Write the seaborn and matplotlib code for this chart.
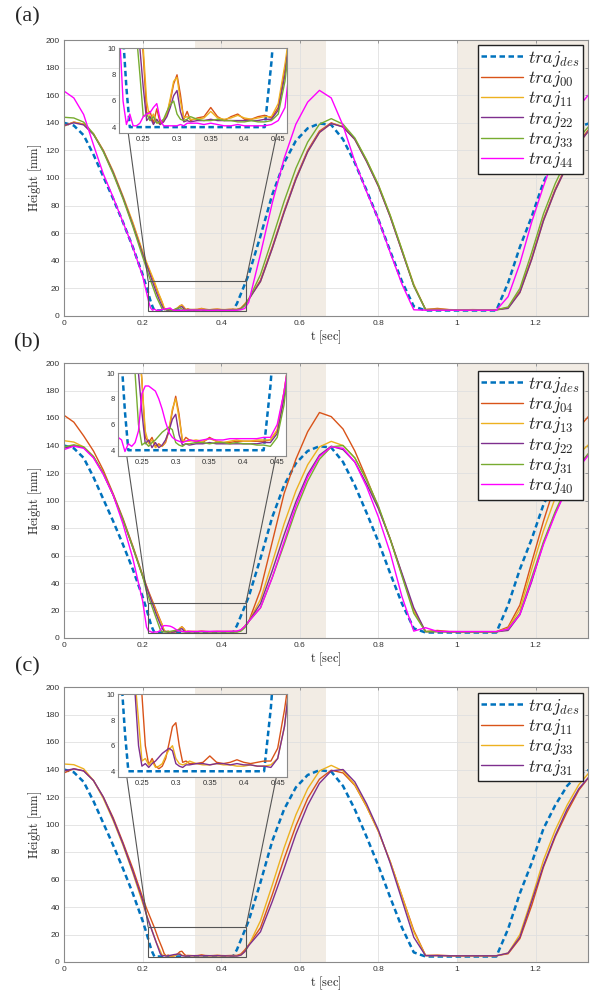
import matplotlib
matplotlib.use("Agg")
import matplotlib.pyplot as plt
import seaborn as sns
from matplotlib.patches import Rectangle, ConnectionPatch

# time grid [s] (coarse outside the zoom window, fine inside it)
t = ([0, 0.025, 0.05, 0.075, 0.1, 0.125, 0.15, 0.175, 0.2]
     + [0.21, 0.215, 0.22, 0.225, 0.23, 0.235, 0.24, 0.245, 0.25, 0.255, 0.26, 0.265,
        0.27, 0.275, 0.28, 0.285, 0.29, 0.295, 0.3, 0.305, 0.31, 0.315, 0.32]
     + [0.33, 0.34, 0.35, 0.36, 0.37, 0.38, 0.39, 0.4, 0.41, 0.42, 0.43, 0.44, 0.45, 0.46, 0.47]
     + [0.5, 0.53, 0.56, 0.59, 0.62, 0.65, 0.68, 0.71, 0.74, 0.77, 0.8, 0.83, 0.86, 0.89,
        0.92, 0.95, 0.98, 1.01, 1.04, 1.07, 1.1, 1.13, 1.16, 1.19, 1.22, 1.25, 1.28, 1.31, 1.34])

# heights [mm]
traj_des = ([140, 138, 131, 117, 101, 85, 68, 50, 30]
            + [21, 16, 11, 7, 4, 4, 4, 4, 4, 4, 4, 4, 4, 4, 4, 4, 4, 4, 4, 4, 4, 4, 4]
            + [4, 4, 4, 4, 4, 4, 4, 4, 4, 4, 4, 9, 16, 23, 30]
            + [58, 88, 111, 127, 136, 139.5, 138.5, 128, 111, 91, 70, 47, 25, 7,
               4, 4, 4, 4, 4, 4, 4, 24, 50, 72, 97, 114, 128, 137, 140])

traj00 = ([138, 140.5, 139, 132, 120, 104, 86, 67, 46]
          + [38, 34.5, 31, 27.5, 24, 20, 16, 13, 9.5, 5, 5.2, 4.3, 5.4, 4.3, 4.5,
             5.0, 6.0, 7.3, 8.0, 6.5, 4.6, 5.2, 4.5]
          + [4.7, 4.8, 5.5, 4.8, 4.5, 4.8, 5.0, 4.6, 4.6, 4.8, 4.9, 4.7, 5.5, 8.5, 12]
          + [26, 50, 76, 100, 120, 134, 140, 137, 128, 112, 94, 72, 47, 22,
             4.6, 5.5, 4.6, 4.5, 4.6, 4.5, 4.5, 6, 18, 42, 70, 92, 110, 126, 137])

traj11 = ([137.5, 140.5, 139, 132, 120, 105, 87, 68, 47]
          + [39, 35.5, 32, 28.5, 25, 21, 17, 13.5, 10, 6, 4.5, 5.0, 4.4, 4.2, 4.4,
             5.0, 6.2, 7.5, 7.8, 6.0, 4.7, 4.8, 4.6]
          + [4.6, 4.7, 5.2, 4.7, 4.6, 4.7, 4.9, 4.7, 4.6, 4.7, 4.8, 4.8, 5.8, 8.8, 12.5]
          + [25, 49, 75, 99, 119, 133, 139.5, 137.5, 128.5, 113, 95, 73, 48, 23,
             4.8, 5, 4.6, 4.5, 4.6, 4.5, 4.6, 6, 17, 41, 69, 91, 109, 125, 136])

traj22 = ([138, 140, 138.5, 131.5, 119.5, 104, 86, 66, 45]
          + [37, 33, 29, 25, 21, 17, 13.5, 10, 7, 4.5, 4.8, 4.2, 4.6, 4.2, 4.4,
             4.8, 5.5, 6.4, 6.8, 5.2, 4.4, 4.5, 4.4]
          + [4.5, 4.5, 4.6, 4.5, 4.5, 4.5, 4.5, 4.5, 4.5, 4.5, 4.6, 4.6, 5.3, 8.0, 12]
          + [25, 49, 75, 99, 119, 133, 139.5, 137, 128, 112, 94, 72, 47, 22,
             4.6, 4.7, 4.5, 4.5, 4.5, 4.5, 4.5, 5.5, 17, 41, 69, 91, 109, 125, 136])

traj33 = ([144, 143.5, 140.5, 132, 119, 103, 85, 65, 43]
          + [34.5, 30, 26, 22, 18, 14, 11, 8, 4.8, 5.0, 4.5, 4.8, 4.3, 4.4, 4.6,
             5.2, 5.7, 6.0, 5.0, 4.6, 4.5, 4.6, 4.8]
          + [4.6, 4.5, 4.5, 4.6, 4.5, 4.5, 4.4, 4.4, 4.5, 4.4, 4.4, 4.5, 5.0, 7.5, 12]
          + [30, 56, 83, 107, 126, 139, 143, 139, 129, 113, 95, 73, 48, 22,
             4.6, 4.6, 4.5, 4.5, 4.5, 4.5, 4.5, 6.5, 20, 46, 74, 96, 114, 129, 139])

traj44 = ([163, 158, 146, 124, 103, 86, 68, 50, 29]
          + [17, 11, 6, 4.2, 5.0, 4.1, 4.1, 4.3, 4.8, 5.0, 5.1, 5.5, 5.8, 4.6, 4.1,
             4.1, 4.1, 4.1, 4.1, 4.2, 4.1, 4.3, 4.3]
          + [4.3, 4.2, 4.3, 4.2, 4.1, 4.1, 4.2, 4.1, 4.1, 4.1, 4.1, 4.2, 4.5, 5.5, 10]
          + [45, 82, 114, 139, 155, 163.5, 158, 138, 112, 90, 70, 46, 23, 4.5,
             4.2, 4.2, 4.2, 4.2, 4.2, 4.2, 4.2, 14, 38, 68, 94, 118, 138, 152, 162])

traj04 = ([162, 157, 147, 136, 122, 105, 87, 67, 46]
          + [38, 34, 30.5, 27, 23.5, 20, 16.5, 13, 9.5, 5, 4.6, 5.0, 4.3, 4.5, 4.3,
             4.6, 5.5, 7.0, 8.2, 6.8, 4.6, 5.0, 4.8]
          + [4.7, 4.6, 5.0, 4.7, 4.6, 4.6, 4.7, 4.7, 4.7, 4.7, 4.7, 4.8, 5.5, 8.5, 12]
          + [35, 70, 105, 130, 150, 164, 161, 152, 136, 116, 95, 72, 46, 20,
             4.7, 5.5, 4.7, 4.6, 4.6, 4.6, 4.6, 8, 24, 55, 85, 112, 135, 153, 163])

traj13 = ([143.5, 142.5, 139, 132, 120, 104, 86, 66, 45]
          + [37, 33, 29.5, 26, 22.5, 19, 15.5, 12.5, 9.5, 5.5, 4.5, 4.8, 4.2, 4.4, 4.3,
             4.7, 5.6, 7.2, 8.0, 6.5, 4.8, 4.7, 4.7]
          + [4.8, 4.7, 4.9, 4.7, 4.6, 4.7, 4.8, 4.7, 4.7, 4.8, 4.8, 4.8, 5.6, 8.5, 12]
          + [28, 55, 83, 107, 126, 139, 143, 140, 131, 115, 95, 72, 46, 20,
             4.7, 4.8, 4.6, 4.6, 4.6, 4.6, 4.6, 7, 21, 50, 78, 102, 121, 134, 142])

traj31 = ([139, 140.5, 139, 132, 120, 104, 86, 66, 45]
          + [34, 30, 26, 22, 18, 14, 10, 6, 4.4, 4.6, 4.3, 4.6, 4.8, 5.1, 5.4,
             5.6, 5.8, 5.6, 4.6, 4.4, 4.3, 4.5, 4.5]
          + [4.6, 4.6, 4.5, 4.6, 4.6, 4.5, 4.6, 4.5, 4.5, 4.4, 4.4, 4.3, 5.0, 7.5, 12]
          + [22, 44, 68, 93, 114, 130, 139, 140, 131, 115, 96, 72, 45, 18,
             4.6, 4.6, 4.5, 4.5, 4.5, 4.5, 4.5, 6.5, 18, 44, 70, 92, 111, 126, 136])

traj40 = ([137, 139.5, 138, 131, 119, 104, 83, 58, 27]
          + [8, 5.0, 4.8, 3.9, 4.5, 4.3, 4.6, 5.5, 8.4, 9.0, 9.0, 8.8, 8.6, 8.0, 7.2,
             6.2, 5.4, 5.0, 4.8, 4.7, 4.6, 4.7, 4.8]
          + [4.7, 4.8, 4.9, 4.8, 4.8, 4.9, 4.9, 4.9, 4.9, 4.9, 5.0, 5.0, 6.0, 8.5, 12]
          + [22, 44, 70, 96, 117, 132, 139, 138, 128, 110, 88, 62, 30, 5,
             7.5, 4.8, 4.7, 4.7, 4.7, 4.7, 4.7, 6.5, 17, 42, 68, 90, 109, 124, 135])

panel_titles = ["(a)", "(b)", "(c)"]
panel_curves = [
    [("00", traj00), ("11", traj11), ("22", traj22), ("33", traj33), ("44", traj44)],
    [("04", traj04), ("13", traj13), ("22", traj22), ("31", traj31), ("40", traj40)],
    [("11", traj11), ("33", traj33), ("31", traj31)],
]

xticks = [0, 0.2, 0.4, 0.6, 0.8, 1.0, 1.2]
xtick_labels = ["0", "0.2", "0.4", "0.6", "0.8", "1", "1.2"]
yticks = [0, 20, 40, 60, 80, 100, 120, 140, 160, 180, 200]
inset_xticks = [0.25, 0.3, 0.35, 0.4, 0.45]
inset_xtick_labels = ["0.25", "0.3", "0.35", "0.4", "0.45"]
inset_yticks = [4, 6, 8, 10]

des_color = "#0072BD"
colors = ["#D95319", "#EDB120", "#7E2F8E", "#77AC30", "#FF00FF"]
shade = "#f2ece4"
edge = "#8a8a8a"

sns.set_theme(style="white")
plt.rcParams["font.family"] = ["Liberation Sans", "DejaVu Sans"]
plt.rcParams["mathtext.fontset"] = "cm"

W, H = 593, 992
fig = plt.figure(figsize=(W / 100, H / 100), dpi=100)


def frac(box):
    l, t_, r, b = box
    return [l / W, 1 - b / H, (r - l) / W, (b - t_) / H]


main_boxes = [(64, 40, 588, 316), (64, 363, 588, 638), (64, 687, 588, 962)]
inset_boxes = [(119, 48, 287, 133), (117.5, 372.5, 286, 456), (117.5, 694, 286.5, 777)]
legend_anchor = [(583, 45), (583, 371), (583, 693)]
label_pos = [(27, 17), (27, 343), (27, 667)]


def style_axes(a, size):
    for s in a.spines.values():
        s.set_color(edge)
        s.set_linewidth(0.8)
    a.tick_params(direction="in", length=2.5, width=0.6, color=edge,
                  labelsize=size, labelcolor="#333333", pad=3,
                  top=True, right=True)


for k in range(3):
    ax = fig.add_axes(frac(main_boxes[k]))
    ax.axvspan(1 / 3, 2 / 3, color=shade, lw=0, zorder=0.2)
    ax.axvspan(1.0, 4 / 3, color=shade, lw=0, zorder=0.2)

    sns.lineplot(x=t, y=traj_des, ax=ax, color=des_color, lw=1.8,
                 linestyle=(0, (2.2, 1.4)), label=r"$traj_{des}$", sort=False)
    for i, (name, ys) in enumerate(panel_curves[k]):
        sns.lineplot(x=t, y=ys, ax=ax, color=colors[i], lw=1.0,
                     label=r"$traj_{%s}$" % name, sort=False)

    ax.set_xlim(0, 4 / 3)
    ax.set_ylim(0, 200)
    ax.set_xticks(xticks)
    ax.set_xticklabels(xtick_labels)
    ax.set_yticks(yticks)
    ax.grid(True, color="#e0e0e0", lw=0.6)
    ax.set_axisbelow(True)
    style_axes(ax, 6)
    ax.set_xlabel(r"$\mathrm{t}\ [\mathrm{sec}]$", fontsize=9, labelpad=1)
    ax.set_ylabel(r"$\mathrm{Height}\ [\mathrm{mm}]$", fontsize=9, labelpad=1)

    ax.add_patch(Rectangle((0.214, 3.6), 0.249, 21.9, fill=False,
                           ec="#555555", lw=0.8, zorder=4))

    ax_in = fig.add_axes(frac(inset_boxes[k]))
    ax_in.set_zorder(5)
    ax_in.set_facecolor("white")
    sns.lineplot(x=t, y=traj_des, ax=ax_in, color=des_color, lw=1.8,
                 linestyle=(0, (2.2, 1.4)), legend=False, sort=False)
    for i, (name, ys) in enumerate(panel_curves[k]):
        sns.lineplot(x=t, y=ys, ax=ax_in, color=colors[i], lw=1.0,
                     legend=False, sort=False)
    ax_in.set_xlim(0.214, 0.463)
    ax_in.set_ylim(3.55, 10.05)
    ax_in.set_xticks(inset_xticks)
    ax_in.set_xticklabels(inset_xtick_labels)
    ax_in.set_yticks(inset_yticks)
    ax_in.set_xlabel("")
    ax_in.set_ylabel("")
    style_axes(ax_in, 5.5)
    ax_in.tick_params(top=False, right=False, pad=2)

    for xa, xb in [(0.214, 0.055), (0.463, 0.94)]:
        con = ConnectionPatch(xyA=(xa, 25.5), coordsA="data", axesA=ax,
                              xyB=(xb, 0), coordsB="axes fraction", axesB=ax_in,
                              color="#555555", lw=0.8)
        fig.add_artist(con)

    lx, ly = legend_anchor[k]
    leg = ax.legend(loc="upper right", bbox_to_anchor=(lx / W, 1 - ly / H),
                    bbox_transform=fig.transFigure, fontsize=13,
                    handlelength=2.3, handletextpad=0.3, labelspacing=0.02,
                    borderpad=0.2, borderaxespad=0, frameon=True,
                    fancybox=False, edgecolor="#222222", framealpha=1)
    leg.get_frame().set_linewidth(1.0)
    leg.set_zorder(6)

    px, py = label_pos[k]
    fig.text(px / W, 1 - py / H, panel_titles[k], ha="center", va="center",
             family=["Liberation Serif", "DejaVu Serif"], fontsize=16)

fig.savefig("out.png", dpi=100)
